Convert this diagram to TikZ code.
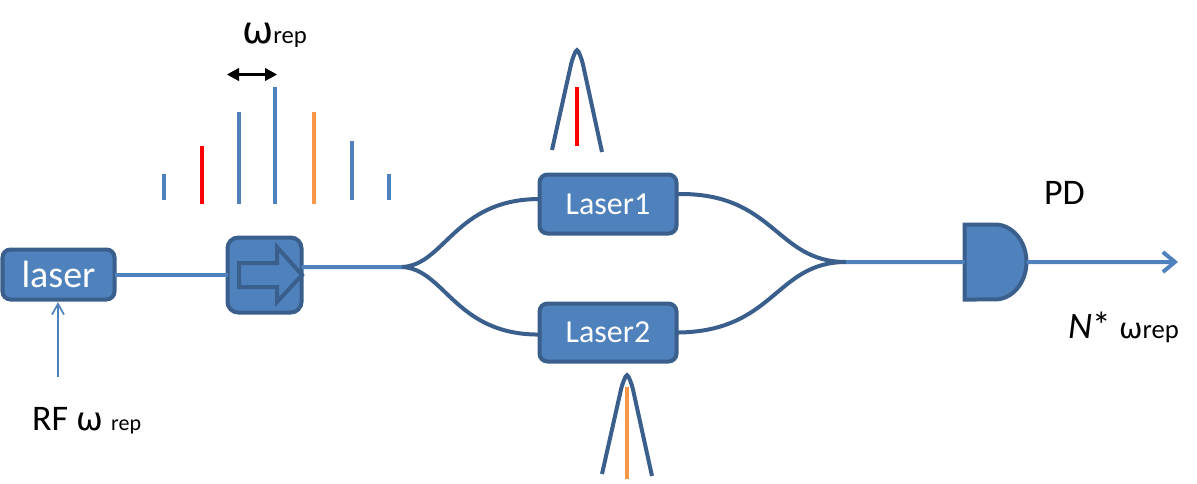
\documentclass[tikz,border=0pt]{standalone}
\usepackage{fontspec}
\setmainfont{Carlito}
\newfontfamily\omegafont{DejaVu Sans}
\usetikzlibrary{arrows.meta,positioning}
\definecolor{boxfill}{HTML}{4F81BD}
\definecolor{boxline}{HTML}{3A5F8C}
\definecolor{combred}{HTML}{FF0000}
\definecolor{comborange}{HTML}{F79646}

\begin{document}
\begin{tikzpicture}[
    x=0.75pt, y=-0.75pt,
    block/.style={draw=boxline, line width=3pt, fill=boxfill, rectangle, rounded corners=6pt, outer sep=0pt, text=white, align=center},
    fibre/.style={draw=boxline, line width=3pt},
    beam/.style={draw=boxfill, line width=3pt},
    pulse/.style={draw=boxline, line width=3pt},
    tooth/.style={line width=2.4pt},
    label/.style={inner sep=0pt, outer sep=0pt, anchor=base west, text=black}
]
  \useasboundingbox (0,0) rectangle (1197,483);

  % Nodes
  \node (laser) [block, minimum width=84pt, minimum height=37.5pt, font=\fontsize{28.5}{32}\selectfont] at (58.5,274.5) {laser};
  \node (mod) [block, minimum width=55.5pt, minimum height=56.25pt, rounded corners=8pt, right=84.75pt of laser, yshift=-0.4pt] {};
  \node (laser1) [block, minimum width=102.75pt, minimum height=44.25pt, font=\fontsize{24}{28}\selectfont, right=178.5pt of mod, yshift=53.25pt] {Laser1};
  \node (laser2) [block, minimum width=102.75pt, minimum height=43.5pt, font=\fontsize{24}{28}\selectfont, below=52.5pt of laser1] {Laser2};
  \node (pd) [inner sep=0pt, outer sep=0pt, minimum width=46.5pt, minimum height=56.25pt, right=216pt of laser1, yshift=-43.5pt] {};

  \coordinate (split) at (402,267);
  \coordinate (merge) at (846,262);
  \coordinate (out) at (1178,262);
  \coordinate (rfin) at (58,377);

  % Modulator arrow
  \draw [boxline, line width=3pt, line join=miter] (239,263) -- (277,263) -- (277,247) -- (302,275) -- (277,302) -- (277,287) -- (239,287) -- cycle;

  % Detector
  \draw [fill=boxfill, draw=boxline, line width=3pt] (pd.south west) -- (pd.north west) -- (995,224.5) arc[start angle=90, end angle=-90, x radius=23.6pt, y radius=28.1pt] -- cycle;

  % Arrows
  \draw [beam] (laser.east |- 0,274.5) -- (mod.west |- 0,274.5);
  \draw [beam] ([yshift=6pt]mod.east) -- (split);
  \draw [fibre] (split) .. controls (445,265) and (455,199) .. ([yshift=3.75pt]laser1.west);
  \draw [fibre] (split) .. controls (445,269) and (455,335) .. ([yshift=-1.5pt]laser2.west);
  \draw [fibre] ([yshift=7.5pt]laser1.east) .. controls (775,192) and (775,262) .. (merge);
  \draw [fibre] ([yshift=0pt]laser2.east) .. controls (775,332) and (775,262) .. (merge);
  \draw [beam] (merge) -- (pd.west);
  \draw [beam, -{Straight Barb[length=9pt, width=15pt, line width=3pt]}] (pd.east) -- (out);
  \draw [boxfill, line width=1.3pt, shorten >=2pt, -{Straight Barb[length=8pt, width=9pt, line width=1.3pt]}] (rfin) -- (laser.south -| rfin);
  \draw [black, line width=1.6pt, {Triangle[length=9pt, width=9.5pt]}-{Triangle[length=9pt, width=9.5pt]}] (227,74.5) -- (277,74.5);

  % Comb
  \foreach \x/\ytop/\ybot/\col in {164/174/200/boxfill, 202/146/204/combred, 239/112/204/boxfill, 275/87/204/boxfill, 314/112/204/comborange, 352/141/200/boxfill, 389/174/200/boxfill}
    \draw [tooth, \col] (\x,\ytop) -- (\x,\ybot);

  % Filtered lines
  \draw [pulse, rounded corners=3pt] (552,150) -- (572,60) -- (577,48) -- (582,60) -- (602,152);
  \draw [tooth, combred, line width=2.8pt] (577,87) -- (577,146);
  \draw [pulse, rounded corners=3pt] (602,474) -- (622,385) -- (627,373) -- (632,385) -- (652,476);
  \draw [tooth, comborange, line width=2.8pt] (627,387) -- (627,479);

  % Labels
  \node (spacing) [label] at (242,43) {{\omegafont\fontsize{28}{30}\selectfont ω}\fontsize{18.5}{30}\selectfont rep};
  \node (pdname) [label] at (1044,204) {\fontsize{27}{30}\selectfont PD};
  \node (beat) [label] at (1068,338) {\fontsize{28}{30}\selectfont\textit{N}* {\omegafont\fontsize{21}{30}\selectfont ω}\fontsize{20}{30}\selectfont rep};
  \node (rfname) [label] at (32,430) {\fontsize{27}{30}\selectfont RF {\omegafont\fontsize{24}{30}\selectfont ω} \fontsize{16.5}{30}\selectfont rep};

\end{tikzpicture}
\end{document}
